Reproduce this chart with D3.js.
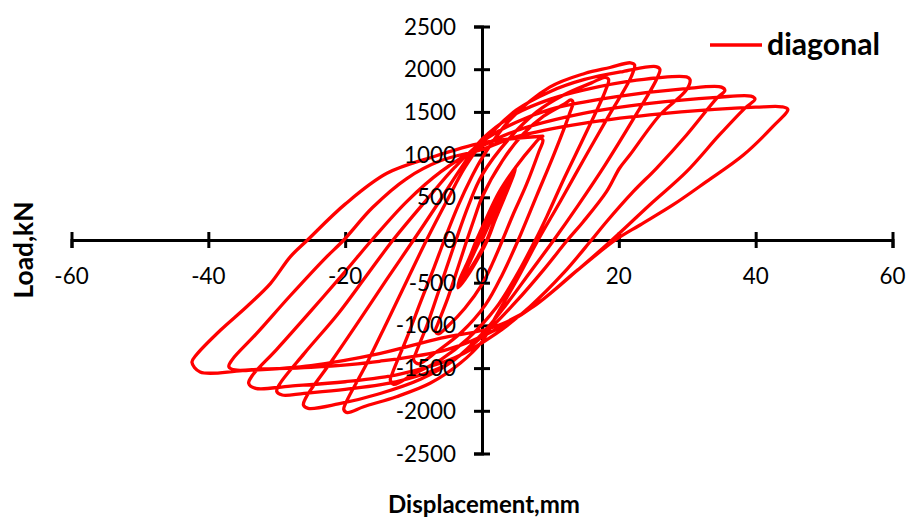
<!DOCTYPE html>
<html><head><meta charset="utf-8">
<script src="https://cdn.jsdelivr.net/npm/d3@7"></script>
<style>body{margin:0;background:#fff} svg{display:block}</style>
</head><body><svg id="c" width="908" height="517"></svg>
<script>
// ---------- data ----------
const xTicks = [-60, -40, -20, 0, 20, 40, 60];
const yTicks = [-2500, -2000, -1500, -1000, -500, 0, 500, 1000, 1500, 2000, 2500];
const seriesName = "diagonal";
const xTitle = "Displacement,mm";
const yTitle = "Load,kN";

// [displacement mm, load kN]
const cycle01 = [[0,0],[1.2,210],[2.5,430],[3.7,640],[4.5,780],[4.3,720],[3.2,500],[1.9,250],[0.7,0],[-0.8,-220],[-2.2,-400],[-3.2,-530],[-3.0,-470],[-1.8,-260],[-0.4,-20],
  [0.9,200],[2.3,440],[3.6,660],[4.8,820],[4.5,740],[3.3,500],[1.9,230],[0.6,-20],[-1.0,-270],[-2.4,-450],[-3.4,-550],[-3.1,-480],[-1.9,-280],[-0.6,-40],
  [0.7,180],[2.1,420],[3.5,650],[4.9,840],[4.6,760],[3.4,520],[2.0,250],[0.8,0],[-0.9,-260],[-2.3,-440],[-3.5,-560]];
const cycle02 = [[-3.3,-470],[-2.0,-240],[-0.8,0],[0.5,230],[2.5,560],[5.0,860],[7.3,1090],[8.5,1190],[8.9,1170],[8.3,1030],[6.5,650],[4.5,290],[3.0,0],[1.5,-280],[0,-520],[-2.5,-800],[-5.0,-1010],[-6.4,-1100],[-6.8,-1060]];
const cycle03 = [[-6.5,-990],[-5.0,-680],[-3.5,-320],[-2.2,0],[-1.0,280],[0,500],[3.0,930],[6.0,1240],[9.0,1450],[12.0,1590],[13.0,1640],[13.3,1610],[12.8,1480],[10.5,1000],[8.0,520],[5.3,0],[3.0,-400],[0.5,-760],[-3.0,-1080],[-6.5,-1300],[-9.3,-1450],[-10.0,-1400]];
const cycle04 = [[-9.7,-1330],[-8.0,-990],[-6.0,-520],[-3.8,0],[-2.0,400],[0,760],[4.0,1190],[8.0,1500],[12.0,1700],[16.0,1840],[18.0,1905],[18.5,1880],[18.0,1740],[15.0,1220],[12.0,720],[9.5,280],[7.8,0],[5.0,-420],[2.0,-800],[-2.0,-1150],[-6.0,-1400],[-10.0,-1570],[-12.9,-1690],[-13.4,-1640]];
const cycle05 = [[-13.1,-1560],[-11.0,-1150],[-9.0,-730],[-7.0,-320],[-5.5,0],[-3.5,400],[-1.5,740],[0,960],[4.0,1400],[9.9,1790],[15.0,1950],[18.7,2020],[21.7,2075],[22.3,2050],[21.8,1910],[18.5,1450],[15.0,960],[11.5,460],[8.2,0],[5.0,-480],[2.0,-900],[0,-1190],[-3.2,-1444],[-7.6,-1678],[-12.5,-1835],[-17.3,-1952],[-19.7,-2020],[-20.2,-1985]];
const cycle06 = [[-19.8,-1890],[-17.0,-1470],[-14.0,-980],[-11.0,-480],[-8.1,0],[-5.0,480],[-2.5,850],[0,1130],[5.0,1520],[10.0,1740],[15.0,1880],[20.6,1973],[25.4,2030],[26.0,2000],[25.5,1880],[22.0,1400],[18.0,880],[14.0,400],[10.5,0],[7.0,-380],[3.5,-760],[0,-1100],[-4.0,-1400],[-9.0,-1630],[-15.0,-1800],[-21.0,-1920],[-25.4,-1971],[-26.1,-1932]];
const cycle07 = [[-25.7,-1840],[-22.0,-1420],[-18.0,-950],[-14.0,-470],[-10.0,0],[-6.0,480],[-3.0,850],[0,1180],[5.0,1480],[10.0,1650],[14.8,1756],[22.6,1873],[29.9,1910],[30.4,1880],[29.9,1760],[26.0,1464],[21.6,995],[20.1,840],[18.2,566],[14.8,214],[12.5,0],[9.0,-350],[5.0,-720],[0,-1130],[-5.0,-1450],[-12.0,-1650],[-20.0,-1750],[-26.0,-1795],[-29.2,-1815],[-30.0,-1774]];
const cycle08 = [[-29.6,-1690],[-26.0,-1330],[-21.0,-860],[-17.0,-430],[-13.0,0],[-8.0,480],[-4.0,850],[0,1150],[5.0,1380],[10.0,1530],[19.7,1678],[29.4,1770],[35.0,1790],[35.5,1750],[34.3,1659],[29.9,1230],[25.5,840],[22.1,566],[18.2,214],[16.0,0],[12.0,-380],[7.0,-780],[2.0,-1100],[-4.0,-1380],[-12.0,-1570],[-20.0,-1660],[-28.0,-1710],[-33.1,-1737],[-34.1,-1678]];
const cycle09 = [[-33.6,-1590],[-30.0,-1280],[-25.0,-830],[-20.0,-370],[-16.1,0],[-11.0,450],[-6.0,800],[0,1100],[5.0,1280],[14.8,1483],[24.5,1600],[34.3,1670],[39.3,1685],[39.9,1650],[38.4,1542],[34.7,1230],[29.9,800],[24.5,410],[19.0,0],[14.0,-350],[8.0,-750],[2.0,-1050],[-5.0,-1280],[-15.0,-1420],[-25.0,-1490],[-32.0,-1510],[-36.1,-1522],[-37.0,-1483]];
const cycle10 = [[-36.5,-1400],[-33.0,-1100],[-28.0,-650],[-23.0,-220],[-20.2,0],[-16.0,380],[-11.0,720],[-6.0,930],[0,1060],[5.1,1210],[14.8,1366],[24.5,1464],[34.0,1530],[40.0,1555],[43.8,1560],[44.7,1530],[42.5,1327],[38.2,995],[32.8,683],[27.9,410],[23.1,176],[19.5,0],[14.0,-350],[7.5,-781],[3.0,-980],[0,-1060],[-6.0,-1150],[-15.0,-1330],[-25.0,-1470],[-35.0,-1530],[-41.2,-1545],[-42.4,-1430]];
const finalBranch = [[-41.8,-1350],[-38.2,-1054],[-34.4,-781],[-30.9,-507],[-28.0,-195],[-25.5,0],[-20.0,420],[-13.9,781],[-7.1,975],[0,1136],[5.0,1190],[8.9,1215]];

const diagonal = [].concat(cycle01, cycle02, cycle03, cycle04, cycle05, cycle06, cycle07, cycle08, cycle09, cycle10, finalBranch);

// ---------- chart ----------
const svg = d3.select("#c");
const x = d3.scaleLinear().domain([-60, 60]).range([71.5, 892.5]);
const y = d3.scaleLinear().domain([-2500, 2500]).range([453.5, 26.5]);

const AX = "#000", RED = "#FF0000";

function fit(t, w) {
  const fs = +t.attr("font-size");
  const L = t.node().getComputedTextLength();
  if (L > 0) t.attr("font-size", (fs * w / L).toFixed(2));
  return t;
}

// axes lines
const gx = svg.append("g").attr("transform", `translate(0,${y(0)})`)
  .call(d3.axisBottom(x).tickValues(xTicks).tickSizeOuter(0).tickSize(8).tickFormat(""));
gx.select(".domain").attr("stroke", AX).attr("stroke-width", 3);
gx.selectAll(".tick line").attr("y1", -8).attr("y2", 8).attr("stroke", AX).attr("stroke-width", 3);

const gy = svg.append("g").attr("transform", `translate(${x(0)},0)`)
  .call(d3.axisLeft(y).tickValues(yTicks).tickSizeOuter(0).tickSize(8).tickFormat(""));
gy.select(".domain").attr("stroke", AX).attr("stroke-width", 3);
gy.selectAll(".tick line").attr("x1", -8).attr("x2", 8).attr("stroke", AX).attr("stroke-width", 3);

// series
const line = d3.line().x(d => x(d[0])).y(d => y(d[1])).curve(d3.curveCatmullRom.alpha(0.5));
svg.append("path").datum(diagonal)
  .attr("fill", "none").attr("stroke", RED).attr("stroke-width", 3.3)
  .attr("stroke-linejoin", "round").attr("stroke-linecap", "round")
  .attr("d", line);

// tick labels
const FONT = "Lato, 'Open Sans', sans-serif";
const probe = svg.append("text").attr("font-family", FONT).attr("font-size", 22).text("2500");
fit(probe, 52);
const tickFs = +probe.attr("font-size");
probe.remove();

svg.append("g").selectAll("text").data(yTicks).join("text")
  .attr("x", x(0) - 26).attr("y", d => y(d)).attr("dy", "0.36em")
  .attr("text-anchor", "end").attr("font-family", FONT).attr("font-size", tickFs).attr("fill", "#000")
  .text(d => d);

svg.append("g").selectAll("text").data(xTicks).join("text")
  .attr("x", d => x(d)).attr("y", y(0) + 36).attr("dy", "0.36em")
  .attr("text-anchor", "middle").attr("font-family", FONT).attr("font-size", tickFs).attr("fill", "#000")
  .text(d => d);

// axis titles
const xt = svg.append("text").attr("x", 484).attr("y", 513)
  .attr("text-anchor", "middle").attr("font-family", FONT).attr("font-weight", "bold")
  .attr("font-size", 24).attr("fill", "#000").text(xTitle);
fit(xt, 192);

const yt = svg.append("text").attr("transform", "translate(33,250) rotate(-90)")
  .attr("text-anchor", "middle").attr("font-family", FONT).attr("font-weight", "bold")
  .attr("font-size", 24).attr("fill", "#000").text(yTitle);
fit(yt, 97);

// legend
const lg = svg.append("g");
lg.append("line").attr("x1", 710).attr("x2", 762).attr("y1", 45).attr("y2", 45)
  .attr("stroke", RED).attr("stroke-width", 3.3);
const lt = lg.append("text").attr("x", 767).attr("y", 55)
  .attr("font-family", FONT).attr("font-weight", "bold").attr("font-size", 28)
  .attr("fill", "#000").text(seriesName);
fit(lt, 113);
</script>
</body></html>
